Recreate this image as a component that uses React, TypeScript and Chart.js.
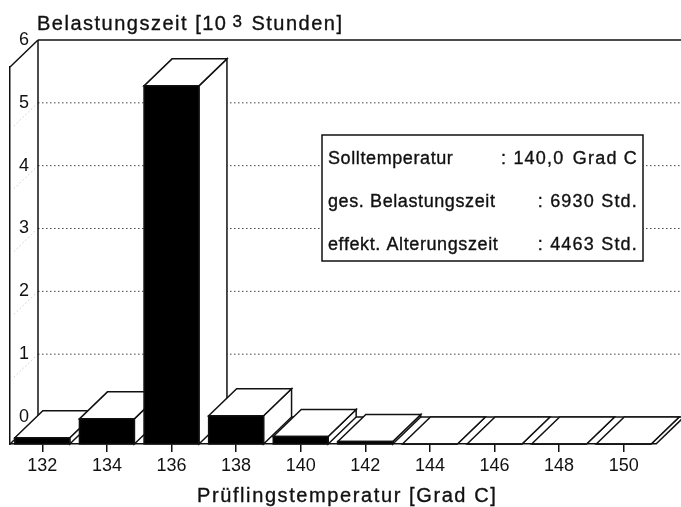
import React, { useEffect, useRef } from "react";
import { Chart, registerables } from "chart.js";

Chart.register(...registerables);

// ---- data ----
const categories = ["132", "134", "136", "138", "140", "142", "144", "146", "148", "150"];
const hours = [0.1, 0.4, 5.7, 0.45, 0.12, 0.04, 0, 0, 0, 0]; // in 10^3 Stunden
const yTicks = [0, 1, 2, 3, 4, 5, 6];
const yTitleMain = "Belastungszeit [10";
const yTitleSup = "3";
const yTitleEnd = "Stunden]";
const xTitle = "Prüflingstemperatur [Grad C]";
const infoLabels = ["Solltemperatur", "ges. Belastungszeit", "effekt. Alterungszeit"];
const infoNumbers = ["140,0", "6930", "4463"];
const infoUnits = ["Grad C", "Std.", "Std."];

// ---- styling / geometry ----
const DX = 28;
const DY = 27;
const FONT = "'Liberation Sans', Arial, Helvetica, sans-serif";
const INK = "#111";
const INFO_ROWS = [164, 207, 250];

function seg(ctx: CanvasRenderingContext2D, x1: number, y1: number, x2: number, y2: number) {
  ctx.beginPath();
  ctx.moveTo(x1, y1);
  ctx.lineTo(x2, y2);
  ctx.stroke();
}

function poly(ctx: CanvasRenderingContext2D, pts: number[][], fill: string) {
  ctx.beginPath();
  ctx.moveTo(pts[0][0], pts[0][1]);
  for (let i = 1; i < pts.length; i++) ctx.lineTo(pts[i][0], pts[i][1]);
  ctx.closePath();
  ctx.fillStyle = fill;
  ctx.fill();
  ctx.stroke();
}

function text(ctx: CanvasRenderingContext2D, s: string, x: number, y: number) {
  ctx.fillText(s, x, y);
  ctx.strokeText(s, x, y);
}

const threeD = {
  id: "threeD",
  beforeDatasetsDraw(chart: any) {
    const { ctx, chartArea: a, scales } = chart;
    const y = scales.y;
    ctx.save();
    // dotted grid lines on the back wall (+ faint continuation on the side wall)
    ctx.lineWidth = 1;
    ctx.setLineDash([1.5, 2.5]);
    for (const v of yTicks) {
      if (v === 0 || v === yTicks[yTicks.length - 1]) continue;
      const py = y.getPixelForValue(v) - DY;
      ctx.strokeStyle = "#444";
      seg(ctx, a.left + DX, py, a.right + DX, py);
      ctx.strokeStyle = "#c8c8c8";
      seg(ctx, a.left + DX, py, a.left + 4, py + DY - 4);
    }
    ctx.setLineDash([]);
    ctx.strokeStyle = INK;
    ctx.lineWidth = 1.5;
    const top = y.getPixelForValue(yTicks[yTicks.length - 1]);
    const bot = y.getPixelForValue(0);
    // back wall
    seg(ctx, a.left + DX, top - DY, a.right + DX, top - DY);
    seg(ctx, a.left + DX, top - DY, a.left + DX, bot - DY);
    // side wall top edge
    seg(ctx, a.left, top, a.left + DX, top - DY);
    // floor
    seg(ctx, a.left + DX, bot - DY, a.right + DX, bot - DY);
    seg(ctx, a.left, bot, a.left + DX, bot - DY);
    seg(ctx, a.right, bot, a.right + DX, bot - DY);
    ctx.restore();
  },
  afterDatasetsDraw(chart: any) {
    const { ctx } = chart;
    const meta = chart.getDatasetMeta(0);
    ctx.save();
    ctx.strokeStyle = INK;
    ctx.lineWidth = 1.5;
    ctx.lineJoin = "miter";
    meta.data.forEach((bar: any) => {
      const { x, y, base, width } = bar.getProps(["x", "y", "base", "width"], true);
      const l = x - width / 2;
      const r = x + width / 2;
      // side face
      poly(ctx, [[r, y], [r + DX, y - DY], [r + DX, base - DY], [r, base]], "#fff");
      // top face
      poly(ctx, [[l, y], [l + DX, y - DY], [r + DX, y - DY], [r, y]], "#fff");
      // front face
      poly(ctx, [[l, y], [r, y], [r, base], [l, base]], "#000");
    });
    ctx.restore();
  },
  afterDraw(chart: any) {
    const { ctx } = chart;
    ctx.save();
    ctx.fillStyle = INK;
    ctx.strokeStyle = INK;
    ctx.lineWidth = 0.35;
    ctx.textBaseline = "alphabetic";
    ctx.textAlign = "left";
    // y title with superscript
    ctx.font = `20px ${FONT}`;
    (ctx as any).letterSpacing = "1.5px";
    let tx = 37;
    text(ctx, yTitleMain, tx, 30);
    tx += ctx.measureText(yTitleMain).width + 5;
    ctx.font = `17px ${FONT}`;
    text(ctx, yTitleSup, tx, 27);
    tx += ctx.measureText(yTitleSup).width + 8;
    ctx.font = `20px ${FONT}`;
    text(ctx, yTitleEnd, tx, 30);
    // x title
    ctx.font = `20px ${FONT}`;
    (ctx as any).letterSpacing = "1.6px";
    text(ctx, xTitle, 197, 502);
    // info box
    ctx.lineWidth = 1.5;
    ctx.fillStyle = "#fff";
    ctx.fillRect(322, 135, 321, 126);
    ctx.strokeRect(322, 135, 321, 126);
    ctx.fillStyle = INK;
    ctx.lineWidth = 0.35;
    ctx.font = `18px ${FONT}`;
    infoLabels.forEach((lab, i) => {
      const yy = INFO_ROWS[i];
      ctx.textAlign = "left";
      (ctx as any).letterSpacing = "0.6px";
      text(ctx, lab, 328, yy);
      (ctx as any).letterSpacing = "1.2px";
      if (i === 0) {
        text(ctx, ": " + infoNumbers[i], 501, yy);
        ctx.textAlign = "right";
        text(ctx, infoUnits[i], 638, yy);
      } else {
        ctx.textAlign = "right";
        text(ctx, ": " + infoNumbers[i] + " " + infoUnits[i], 638, yy);
      }
    });
    ctx.restore();
  },
};

export default function App() {
  const ref = useRef<HTMLCanvasElement | null>(null);
  useEffect(() => {
    if (!ref.current) return;
    const chart = new Chart(ref.current, {
      type: "bar",
      data: {
        labels: categories,
        datasets: [
          {
            data: hours,
            backgroundColor: "#000",
            borderWidth: 0,
            barPercentage: 0.85,
            categoryPercentage: 1.0,
          },
        ],
      },
      options: {
        animation: false,
        responsive: true,
        maintainAspectRatio: false,
        devicePixelRatio: 1,
        layout: { padding: { left: 10, right: 25, top: 67, bottom: 0 } },
        plugins: { legend: { display: false }, tooltip: { enabled: false }, title: { display: false } },
        scales: {
          x: {
            offset: true,
            grid: { display: true, offset: false, drawOnChartArea: false, drawTicks: true, tickLength: 8, color: INK, lineWidth: 1.5 },
            border: { display: true, color: INK, width: 1.5 },
            ticks: { color: INK, font: { family: FONT, size: 18 }, padding: 3, maxRotation: 0 },
            afterFit: (s: any) => { s.height = 63; },
          },
          y: {
            min: 0,
            max: 6,
            grid: { display: false },
            border: { display: true, color: INK, width: 1.5 },
            ticks: { stepSize: 1, mirror: true, padding: 9, labelOffset: -DY, color: INK, font: { family: FONT, size: 18 } },
            afterFit: (s: any) => { s.width = 0; },
          },
        },
      },
      plugins: [threeD],
    });
    return () => chart.destroy();
  }, []);
  return (
    <div style={{ position: "fixed", left: 0, top: 0, width: 681, height: 507, background: "#fff" }}>
      <canvas ref={ref} />
    </div>
  );
}
